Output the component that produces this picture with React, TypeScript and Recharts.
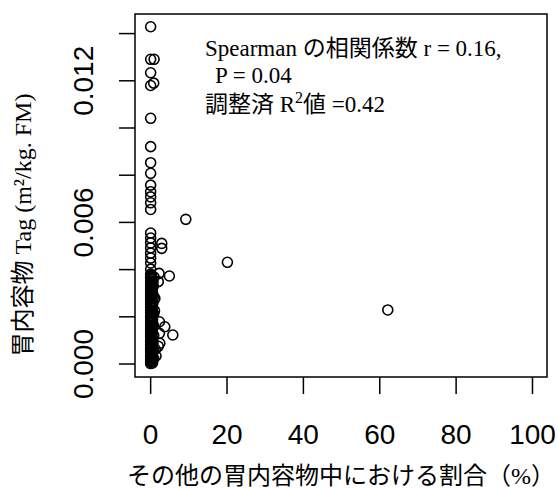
import { ScatterChart, Scatter, XAxis, YAxis, ReferenceArea, Customized } from 'recharts';

// share of other stomach contents (%) for each fish
const otherShare = [
  0, 0, 0.9, 0, 0, 0.8, 0, 0, 0, 0, 0, 0, 0, 0, 0,
  9.2, 0, 0, 0, 0, 0, 0, 0, 2.9, 2.9, 20.1, 62.1,
  2.2, 4.9, 2.0, 1.1, 2.3, 3.7, 5.8, 2.3, 2.4, 2.0,
  // dense cluster near zero
  0, 0, 0, 0, 0, 0, 0, 0, 0, 0, 0, 0, 0, 0, 0, 0, 0, 0, 0,
  0, 0, 0, 0, 0, 0, 0, 0, 0, 0, 0, 0, 0, 0, 0, 0, 0, 0,
  0.5, 0.8, 0.3, 0.7, 0.4, 0.6, 0.8, 0.3, 0.7, 0.5, 0.8,
  0.4, 0.6, 0.8, 0.3, 0.7, 0.5, 0.9, 1.2, 1.4, 1.0,
  0.2, 0.2, 0.2, 0.2, 0.2, 0.2, 0.2, 0.2, 0.2, 0.2,
  0.2, 0.2, 0.2, 0.2, 0.2, 0.2, 0.2, 0.2, 0.2,
  0.4, 0.4, 0.4, 0.4, 0.4, 0.4, 0.4, 0.4, 0.4,
  0.4, 0.4, 0.4, 0.4, 0.4, 0.4, 0.4, 0.4, 0.4,
  0.1, 0.1, 0.1, 0.1, 0.1, 0.1, 0.1, 0.1, 0.1, 0.1, 0.1, 0.1, 0.1,
  0.6, 0.6, 0.6, 0.6, 0.6, 0.6,
];

// Tag (m2/kg FM)
const tagValue = [
  0.01429, 0.01291, 0.01291, 0.01234, 0.0118, 0.0119, 0.01041, 0.00921, 0.00853, 0.00808,
  0.00758, 0.0073, 0.00708, 0.00683, 0.00655,
  0.00613, 0.00555, 0.00534, 0.00513, 0.00492, 0.0047, 0.00449, 0.00428, 0.00511, 0.0049,
  0.00431, 0.00229,
  0.00384, 0.00373, 0.00349, 0.00278, 0.00179, 0.00158, 0.00123, 0.0013, 0.00088, 0.00075,
  0.00002, 0.00011, 0.00019, 0.00031, 0.00038, 0.00052, 0.00061, 0.00068, 0.00083, 0.00094,
  0.00102, 0.00117, 0.00126, 0.00139, 0.00148, 0.00161, 0.00173, 0.00182, 0.00196,
  0.00204, 0.00219, 0.00227, 0.00241, 0.00253, 0.00262, 0.00274, 0.00288, 0.00297,
  0.00309, 0.00318, 0.00331, 0.00343, 0.00352, 0.00364, 0.00372, 0.00381, 0.00402,
  0.00005, 0.00024, 0.00047, 0.00059, 0.00078, 0.00099, 0.00121, 0.00144, 0.00166,
  0.00188, 0.00212, 0.00237, 0.00259, 0.00284, 0.00306, 0.00329, 0.00351, 0.00368,
  0.00062, 0.00034, 0.00226,
  0.00008, 0.00027, 0.00041, 0.00066, 0.00087, 0.00111, 0.00133, 0.00152, 0.00177, 0.00193,
  0.00216, 0.00246, 0.00268, 0.00281, 0.00302, 0.00323, 0.00339, 0.00358, 0.00376,
  0.00015, 0.00036, 0.00055, 0.00072, 0.00091, 0.00114, 0.00131, 0.00157, 0.00171,
  0.00199, 0.00221, 0.00244, 0.00266, 0.00291, 0.00313, 0.00334, 0.00347, 0.00362,
  0.00014, 0.00044, 0.00073, 0.00106, 0.00135, 0.00164, 0.00191, 0.00223, 0.00249,
  0.00279, 0.00314, 0.00338, 0.00369,
  0.00018, 0.00085, 0.00153, 0.00215, 0.00293, 0.00345,
];

const xTicks = [0, 20, 40, 60, 80, 100];
const yTicks = [0, 0.002, 0.004, 0.006, 0.008, 0.01, 0.012, 0.014];
const yLabelled = ['0.000', '0.006', '0.012'];

const xDomain = [-4.1, 103.8];
const yDomain = [-0.00055, 0.01483];

const data = otherShare.map((x, i) => ({ x, y: tagValue[i] }));

const serif = "'Liberation Serif', 'Noto Sans CJK JP', serif";
const sans = "'Liberation Sans', Arial, sans-serif";

const Ring = (props: any) => (
  <circle cx={props.cx} cy={props.cy} r={5} fill="none" stroke="#000" strokeWidth={1.6} />
);

const renderXTick = (props: any) => (
  <text x={props.x} y={444} textAnchor="middle" fontFamily={sans} fontSize={28} fill="#000">
    {props.payload.value}
  </text>
);

const renderYTick = (props: any) => {
  const label = Number(props.payload.value).toFixed(3);
  if (!yLabelled.includes(label)) return <g />;
  return (
    <text
      x={93}
      y={props.y}
      transform={`rotate(-90, 93, ${props.y})`}
      textAnchor="middle"
      fontFamily={sans}
      fontSize={28}
      fill="#000"
    >
      {label}
    </text>
  );
};

const Notes = () => (
  <g fontFamily={serif} fill="#000">
    <text x={205} y={56} fontSize={23}>Spearman の相関係数 r = 0.16,</text>
    <text x={215} y={83} fontSize={23}>P = 0.04</text>
    <text x={205} y={112} fontSize={23}>
      調整済 R<tspan dy={-9} fontSize={16}>2</tspan>
      <tspan dy={9}>値 =0.42</tspan>
    </text>
    <text x={341} y={484} textAnchor="middle" fontSize={24}>
      その他の胃内容物中における割合（%）
    </text>
    <text x={31} y={225} transform="rotate(-90, 31, 225)" textAnchor="middle" fontSize={24}>
      胃内容物 Tag (m²/kg. FM)
    </text>
  </g>
);

export default function App() {
  return (
    <div style={{ position: 'absolute', left: 0, top: 0 }}>
      <ScatterChart width={558} height={489} margin={{ top: 14, right: 11, bottom: 72, left: 95 }}>
        <XAxis
          type="number"
          dataKey="x"
          domain={xDomain}
          ticks={xTicks}
          interval={0}
          allowDataOverflow
          height={40}
          axisLine={false}
          tickSize={17}
          tickLine={{ stroke: '#000', strokeWidth: 1.5 }}
          tick={renderXTick}
        />
        <YAxis
          type="number"
          dataKey="y"
          domain={yDomain}
          ticks={yTicks}
          interval={0}
          allowDataOverflow
          width={40}
          axisLine={false}
          tickSize={16}
          tickLine={{ stroke: '#000', strokeWidth: 1.5 }}
          tick={renderYTick}
        />
        <ReferenceArea
          x1={xDomain[0]}
          x2={xDomain[1]}
          y1={yDomain[0]}
          y2={yDomain[1]}
          fill="none"
          stroke="#000"
          strokeWidth={1.5}
          ifOverflow="visible"
        />
        <Scatter data={data} shape={<Ring />} isAnimationActive={false} />
        <Customized component={<Notes />} />
      </ScatterChart>
    </div>
  );
}
